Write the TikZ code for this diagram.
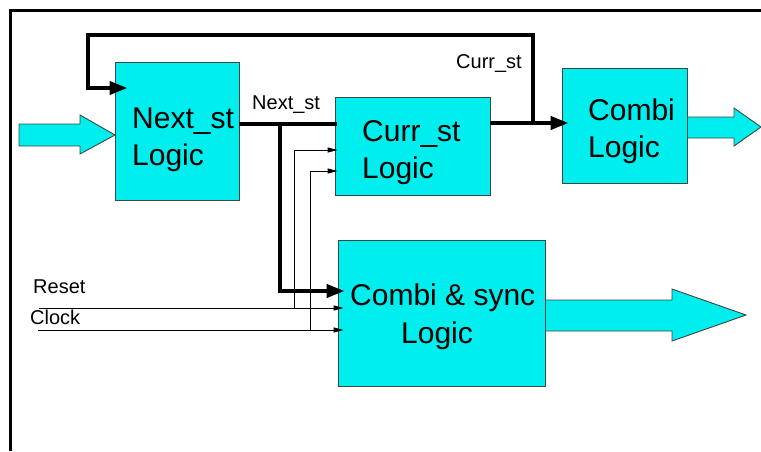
\documentclass[tikz,border=0pt]{standalone}
\usepackage{fontspec}
\setmainfont{Liberation Sans}
\usetikzlibrary{arrows.meta}
\definecolor{blockfill}{RGB}{0,238,238}
\definecolor{blockline}{RGB}{60,70,70}
\tikzset{
  block/.style={draw=blockline, fill=blockfill, line width=0.9pt, inner sep=0pt},
  bigtext/.style={anchor=base west, inner sep=0pt, font=\fontsize{30}{36}\selectfont},
  smalltext/.style={anchor=base west, inner sep=0pt, font=\fontsize{20}{24}\selectfont},
  bus/.style={line width=4pt},
  busarrow/.style={line width=4pt, -{Triangle[length=18pt,width=13pt]}},
  wire/.style={line width=1pt},
  wirearrow/.style={line width=1pt, -{Triangle[length=10pt,width=5pt]}},
  blockarrow/.style={draw=blockline, fill=blockfill, line width=0.9pt, line join=miter}
}
\begin{document}
\begin{tikzpicture}[x=1pt,y=-1pt]
\useasboundingbox (0,0) rectangle (761,451);

% outer frame (top and left edges)
\draw[line width=3pt] (10,451) -- (10,10) -- (761,10);

% logic blocks
\node[block, minimum width=124pt, minimum height=138pt] (ns) at (177,131) {};
\node[block, minimum width=155pt, minimum height=98pt]  (cs) at (412.5,146) {};
\node[block, minimum width=125pt, minimum height=115pt] (cb) at (624.5,125.5) {};
\node[block, minimum width=207pt, minimum height=146pt] (sy) at (441.5,313) {};

% block captions
\node[bigtext] (nsA) at (132,128) {Next\_st};
\node[bigtext] (nsB) at (132,165) {Logic};
\node[bigtext] (csA) at (362,141) {Curr\_st};
\node[bigtext] (csB) at (362,178) {Logic};
\node[bigtext] (cbA) at (588,120) {Combi};
\node[bigtext] (cbB) at (588,157) {Logic};
\node[bigtext] (syA) at (350,305) {Combi \& sync};
\node[bigtext] (syB) at (401,343) {Logic};

% signal labels
\node[smalltext] (lnext)  at (252,109) {Next\_st};
\node[smalltext] (lcurr)  at (456,68)  {Curr\_st};
\node[smalltext] (lreset) at (33,293)  {Reset};
\node[smalltext] (lclock) at (30,324)  {Clock};

% block arrows: input and outputs
\draw[blockarrow] (19,124) -- (80,124) -- (80,115) -- (115,135)
  -- (80,154) -- (80,146) -- (19,146) -- cycle;
\draw[blockarrow] (cb.east |- 0,117) -- (734,117) -- (734,108) -- (761,127)
  -- (734,146) -- (734,138) -- (cb.east |- 0,138) -- cycle;
\draw[blockarrow] (sy.east |- 0,300) -- (672,300) -- (672,289) -- (746,315)
  -- (672,341) -- (672,331) -- (sy.east |- 0,331) -- cycle;

% next-state bus and its branch
\coordinate (nsbr) at (280,124);
\draw[bus] (ns.east |- nsbr) -- ([xshift=2pt]cs.west |- nsbr);
\draw[busarrow] (nsbr) -- (280,291) -- ([xshift=7pt]sy.west |- 0,291);

% current-state bus and feedback loop
\coordinate (fbR) at (533,123);
\draw[busarrow] (cs.east |- fbR) -- ([xshift=7pt]cb.west |- fbR);
\draw[busarrow] (fbR) -- (533,35) -- (88,35) -- (88,88) -- ([xshift=13pt]ns.west |- 0,88);

% reset and clock wires
\coordinate (rst) at (39,308);
\coordinate (clk) at (38,330);
\draw[wirearrow] (rst) -- ([xshift=6pt]sy.west |- rst);
\draw[wirearrow] (clk) -- ([xshift=6pt]sy.west |- clk);
\draw[wirearrow] (294,308) -- (294,150) -- ([xshift=3pt]cs.west |- 0,150);
\draw[wirearrow] (310,330) -- (310,171) -- ([xshift=3pt]cs.west |- 0,171);
\end{tikzpicture}
\end{document}
